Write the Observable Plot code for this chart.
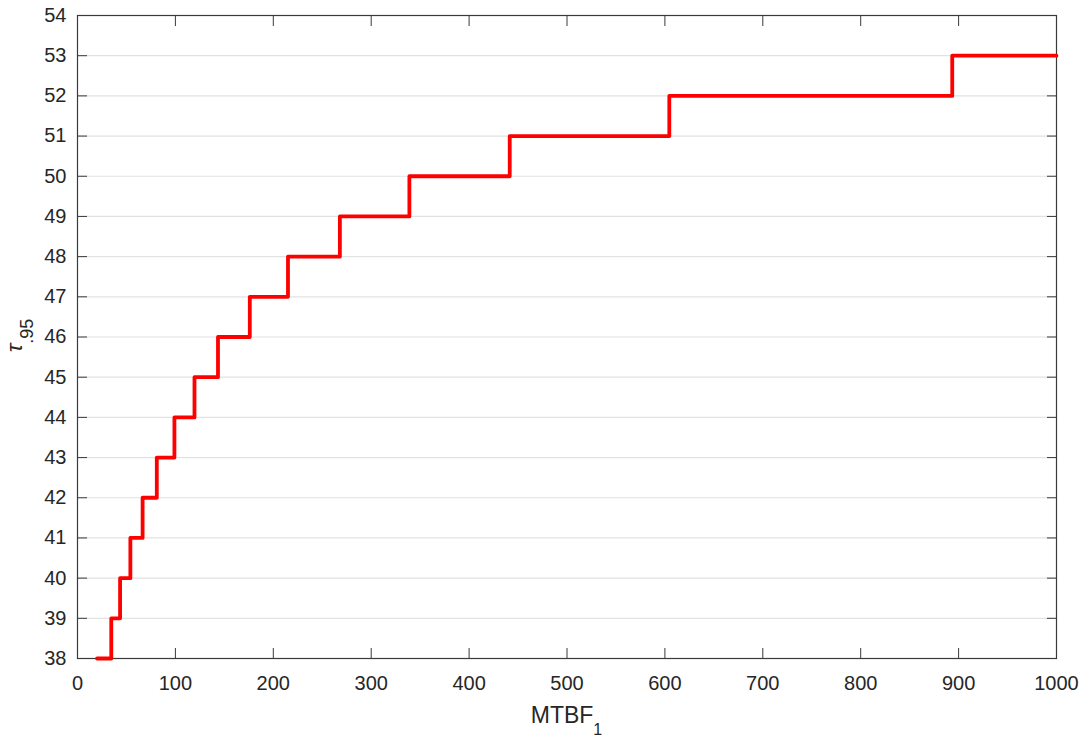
<!DOCTYPE html>
<html><head><meta charset="utf-8">
<script src="https://cdn.jsdelivr.net/npm/d3@7"></script>
<script src="https://cdn.jsdelivr.net/npm/@observablehq/plot@0.6"></script>
<style>body{margin:0;background:#fff;}</style>
</head><body><div id="chart"></div>
<script>
// Step start points: MTBF_1 at which tau_.95 jumps to the next value
const mtbf = [20, 34.5, 43.5, 54, 66.5, 81, 99, 119.5, 143.5, 176, 215, 268, 339, 441.5, 604.5, 893.5, 1000];
const tau  = [38, 39, 40, 41, 42, 43, 44, 45, 46, 47, 48, 49, 50, 51, 52, 53, 53];
const xTicks = [0, 100, 200, 300, 400, 500, 600, 700, 800, 900, 1000];
const yTicks = [38, 39, 40, 41, 42, 43, 44, 45, 46, 47, 48, 49, 50, 51, 52, 53, 54];

const data = mtbf.map((x, i) => ({x, y: tau[i]}));
const W = 1085, H = 736, mL = 77, mT = 15, mR = 29, mB = 78;
const ink = "#262626";
const font = "'Liberation Sans', Arial, sans-serif";

const plot = Plot.plot({
  width: W, height: H,
  marginLeft: mL, marginRight: mR, marginTop: mT, marginBottom: mB,
  style: {fontFamily: font, fontSize: "20px", color: ink, background: "#fff", overflow: "visible"},
  x: {domain: [0, 1000]},
  y: {domain: [38, 54]},
  marks: [
    Plot.gridY(yTicks, {stroke: "#e2e2e2", strokeOpacity: 1, strokeWidth: 1.2}),
    Plot.frame({stroke: "#3a3a3a", strokeWidth: 1.2}),
    Plot.axisX(xTicks, {anchor: "bottom", tickSize: -10, tickPadding: 27, label: null, stroke: "#3a3a3a", tickFormat: d => String(d)}),
    Plot.axisX(xTicks, {anchor: "top", tickSize: -10, tickFormat: () => "", label: null, stroke: "#3a3a3a"}),
    Plot.axisY(yTicks, {anchor: "left", tickSize: -10, tickPadding: 21, label: null, stroke: "#3a3a3a", tickFormat: d => String(d)}),
    Plot.axisY(yTicks, {anchor: "right", tickSize: -10, tickFormat: () => "", label: null, stroke: "#3a3a3a"}),
    Plot.line(data, {x: "x", y: "y", curve: "step-after", stroke: "#ff0000", strokeWidth: 3.8})
  ]
});

const svg = d3.select(plot);
// X label: MTBF_1
const xl = svg.append("text")
  .attr("x", mL + (W - mL - mR) / 2).attr("y", 723)
  .attr("text-anchor", "middle")
  .attr("fill", ink)
  .style("font-family", font)
  .style("font-size", "23px");
xl.append("tspan").text("MTBF");
xl.append("tspan").attr("dy", 12).style("font-size", "16px").text("1");

// Y label: tau_.95
const yl = svg.append("text")
  .attr("transform", `translate(22,${mT + (H - mT - mB) / 2 - 1}) rotate(-90)`)
  .attr("text-anchor", "middle")
  .attr("fill", ink)
  .style("font-family", font)
  .style("font-size", "23px");
yl.append("tspan").style("font-style", "italic").text("τ");
yl.append("tspan").attr("dy", 11).style("font-size", "18px").text(".95");

document.getElementById("chart").appendChild(plot);
</script>
</body></html>
